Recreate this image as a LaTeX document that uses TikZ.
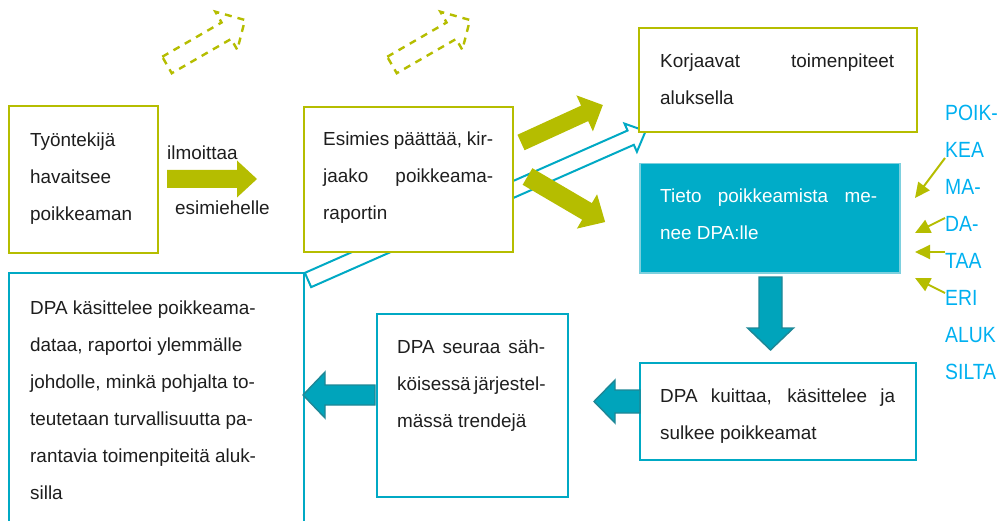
\documentclass[tikz,border=0pt]{standalone}
\usepackage{fontspec}
\setmainfont{Liberation Sans}
\newfontfamily\narrowsans[FakeStretch=0.88]{Liberation Sans}
\usetikzlibrary{arrows.meta}
\definecolor{grn}{RGB}{181,189,0}
\definecolor{tealline}{RGB}{0,169,196}
\definecolor{tealfill}{RGB}{0,172,200}
\definecolor{tealedge}{RGB}{125,208,222}
\definecolor{tealarrow}{RGB}{0,164,187}
\definecolor{tealdark}{RGB}{30,135,150}
\definecolor{bluetext}{RGB}{0,176,240}
\definecolor{ink}{RGB}{30,30,30}
\newcommand\blockarr[8]{%
  \begin{scope}[shift={(#2,#3)}, rotate=#4]
    \path[#1] (0,-#6) -- ({#5-#8},-#6) -- ({#5-#8},-#7) -- (#5,0) -- ({#5-#8},#7) -- ({#5-#8},#6) -- (0,#6) -- cycle;
  \end{scope}}
\newcommand\tlines[2]{\vtop{\hsize=#1pt\parindent=0pt\raggedright #2}}
\newcommand\jline[2]{\makebox[#1pt][s]{#2}}
\begin{document}
\begin{tikzpicture}[x=1pt,y=-1pt,
  gbox/.style={draw=grn, line width=2.2pt, fill=white, inner sep=0pt, anchor=north west},
  tbox/.style={draw=tealline, line width=1.6pt, fill=white, inner sep=0pt, anchor=north west},
  txt/.style={inner sep=0pt, anchor=base west, text=ink, font=\fontsize{18.9}{37}\selectfont},
  bluetxt/.style={inner sep=0pt, anchor=base west, text=bluetext, font=\narrowsans\fontsize{22}{37}\selectfont},
  garrow/.style={fill=grn},
  gdash/.style={draw=grn, line width=2.4pt, dash pattern=on 7pt off 6pt},
  toutline/.style={draw=tealline, line width=2pt, fill=white},
  tarrow/.style={fill=tealarrow, draw=tealdark, line width=1.4pt},
  thinarr/.style={draw=grn, line width=2pt, -{Triangle[length=15pt,width=14pt]}}]
\useasboundingbox (0,0) rectangle (1003,521);
\clip (0,0) rectangle (1003,521);
% outline arrow behind boxes
\blockarr{toutline}{308}{280}{23.8}{369}{7.8}{15.4}{16.3}
% boxes
\node[gbox, minimum width=149pt, minimum height=147pt] (b1) at (8,105) {};
\node[gbox, minimum width=209pt, minimum height=145pt] (b2) at (303,106) {};
\node[gbox, minimum width=278pt, minimum height=104pt] (b3) at (638,27) {};
\node[draw=tealedge, fill=tealfill, line width=1.5pt, inner sep=0pt, anchor=north west, minimum width=260pt, minimum height=109pt] (b4) at (639,163) {};
\node[tbox, minimum width=276pt, minimum height=97pt] (b5) at (639,362) {};
\node[tbox, minimum width=191pt, minimum height=183pt] (b6) at (376,313) {};
\node[tbox, minimum width=295pt, minimum height=260pt] (b7) at (8,272) {};
% green block arrows
\blockarr{garrow}{167}{179}{0}{90}{9}{18.5}{20}
\blockarr{garrow}{521}{142.5}{24.6}{90}{8.5}{19.8}{20}
\blockarr{garrow}{527.5}{176.5}{-30.4}{90}{9.6}{19.9}{21}
% dashed arrows
\blockarr{gdash}{167}{65}{30}{90}{9.5}{22}{21.5}
\blockarr{gdash}{392}{65}{30}{90}{9.5}{22}{21.5}
% teal block arrows
\blockarr{tarrow}{770.5}{277}{-90}{73}{11.5}{23}{22}
\blockarr{tarrow}{640}{401.5}{180}{46}{11.5}{21.5}{21}
\blockarr{tarrow}{375}{395}{180}{72}{10}{23}{22}
% texts
\node[txt] (t1) at (30,147) {\tlines{120}{Työntekijä\\havaitsee\\poikkeaman}};
\node[txt] (ilm) at (167,160) {ilmoittaa};
\node[txt] (esi) at (175,215) {esimiehelle};
\node[txt] (t2) at (323,146) {\tlines{170}{\jline{170}{Esimies päättää, kir-}\\\jline{170}{jaako poikkeama-}\\raportin}};
\node[txt] (t3) at (660,68) {\tlines{234}{\jline{234}{Korjaavat toimenpiteet}\\aluksella}};
\node[txt, text=white] (t4) at (660,203) {\tlines{217}{\jline{217}{Tieto poikkeamista me-}\\nee DPA:lle}};
\node[txt] (t5) at (660,402) {\tlines{235}{\jline{235}{DPA kuittaa, käsittelee ja}\\sulkee poikkeamat}};
\node[txt] (t6) at (397,353) {\tlines{148}{\jline{148}{DPA seuraa säh-}\\\jline{148}{köisessä järjestel-}\\mässä trendejä}};
\node[txt] (t7) at (30,314) {\tlines{270}{DPA käsittelee poikkeama-\\dataa, raportoi ylemmälle\\johdolle, minkä pohjalta to-\\teutetaan turvallisuutta pa-\\rantavia toimenpiteitä aluk-\\silla}};
\node[bluetxt] (src) at (945,121) {\tlines{58}{POIK-\\KEA\\MA-\\DA-\\TAA\\ERI\\ALUK\\SILTA}};
% thin arrows
\coordinate (g1s) at (945,158); \coordinate (g1e) at (915,198);
\coordinate (g2s) at (945,218); \coordinate (g2e) at (915,233);
\coordinate (g3s) at (945,252); \coordinate (g3e) at (915,252);
\coordinate (g4s) at (945,293); \coordinate (g4e) at (915,278);
\draw[thinarr] (g1s) -- (g1e);
\draw[thinarr] (g2s) -- (g2e);
\draw[thinarr] (g3s) -- (g3e);
\draw[thinarr] (g4s) -- (g4e);
\end{tikzpicture}
\end{document}
